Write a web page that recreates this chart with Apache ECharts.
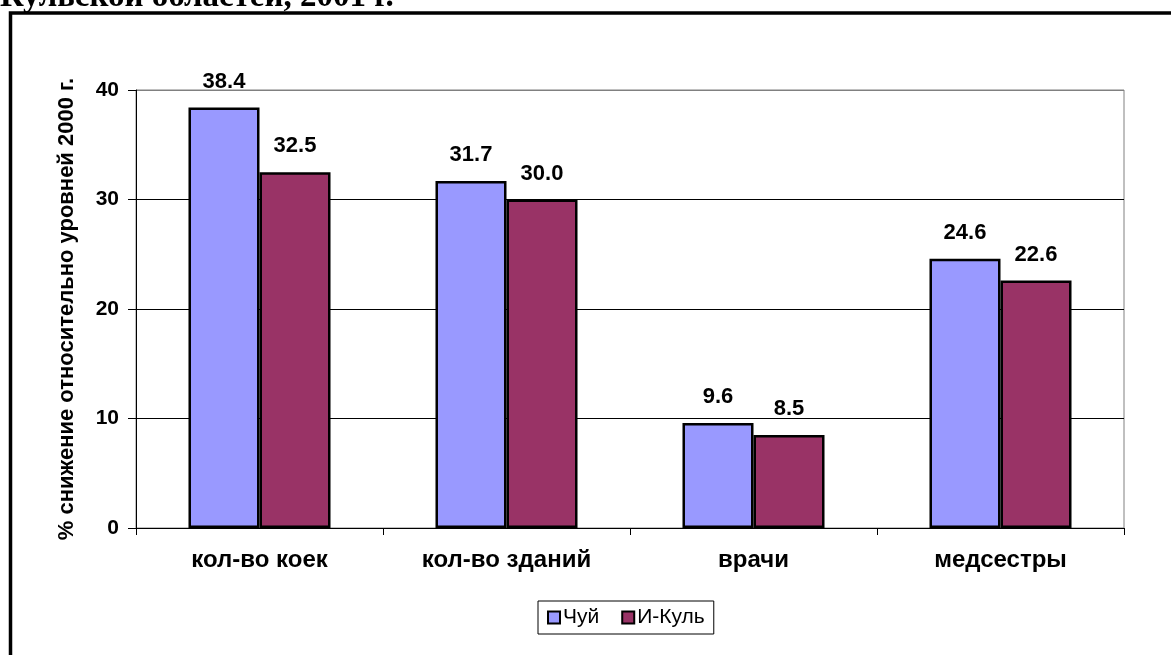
<!DOCTYPE html>
<html>
<head>
<meta charset="utf-8">
<script src="https://cdn.jsdelivr.net/npm/echarts@6/dist/echarts.min.js"></script>
<style>
  html, body { margin: 0; padding: 0; background: #fff; }
  #chart { width: 1171px; height: 655px; }
</style>
</head>
<body>
<div id="chart"></div>
<script>
// Reduction of hospital resources relative to 2000 levels, by region
const categories = ['кол-во коек', 'кол-во зданий', 'врачи', 'медсестры'];
const seriesNames = ['Чуй', 'И-Куль'];
const chuyValues = [38.4, 31.7, 9.6, 24.6];
const ikulValues = [32.5, 30.0, 8.5, 22.6];
const yTicks = { min: 0, max: 40, interval: 10 };
const yAxisTitle = '% снижение относительно уровней 2000 г.';
const headingTail = 'Кульской областей, 2001 г.';

const chart = echarts.init(document.getElementById('chart'), null, { renderer: 'canvas' });

const sans = 'Arial, "Liberation Sans", sans-serif';

const labelStyle = {
  show: true,
  position: 'top',
  distance: 15,
  color: '#000',
  fontFamily: sans,
  fontWeight: 'bold',
  fontSize: 22,
  formatter: p => p.value.toFixed(1)
};

chart.setOption({
  backgroundColor: '#fff',
  animation: false,
  graphic: [
    {
      type: 'text',
      left: 0,
      top: -19,
      style: {
        text: headingTail,
        font: 'bold 33px "Liberation Serif", "Times New Roman", serif',
        fill: '#000'
      }
    },
    {
      type: 'rect',
      shape: { x: 10.5, y: 13, width: 1300, height: 800 },
      style: { fill: 'none', stroke: '#000', lineWidth: 3.5 },
      z: 10
    }
  ],
  grid: {
    left: 136,
    right: 47,
    top: 90,
    bottom: 127,
    show: true,
    borderColor: '#808080',
    borderWidth: 1
  },
  legend: {
    data: seriesNames,
    left: 538,
    top: 601,
    orient: 'horizontal',
    padding: [6, 9, 6, 9],
    itemGap: 22,
    itemWidth: 12,
    itemHeight: 12,
    icon: 'rect',
    borderColor: '#000',
    borderWidth: 1,
    textStyle: {
      color: '#000',
      fontFamily: sans,
      fontSize: 21,
      padding: [0, 0, 0, -2]
    }
  },
  xAxis: {
    type: 'category',
    data: categories,
    axisLine: { show: true, lineStyle: { color: '#000', width: 1 } },
    axisTick: { show: true, length: 7, lineStyle: { color: '#000' } },
    axisLabel: {
      color: '#000',
      fontFamily: sans,
      fontWeight: 'bold',
      fontSize: 24,
      margin: 20
    },
    splitLine: { show: false }
  },
  yAxis: {
    type: 'value',
    min: yTicks.min,
    max: yTicks.max,
    interval: yTicks.interval,
    name: yAxisTitle,
    nameLocation: 'middle',
    nameRotate: 90,
    nameGap: 58,
    nameTextStyle: {
      color: '#000',
      fontFamily: sans,
      fontWeight: 'bold',
      fontSize: 22
    },
    axisLine: { show: true, lineStyle: { color: '#000', width: 1 } },
    axisTick: { show: true, inside: false, length: 8, lineStyle: { color: '#000' } },
    axisLabel: {
      color: '#000',
      fontFamily: sans,
      fontWeight: 'bold',
      fontSize: 21,
      margin: 17
    },
    splitLine: {
      show: true,
      lineStyle: { color: ['#000', '#000', '#000', '#000', '#808080'], width: 1 }
    }
  },
  series: [
    {
      name: seriesNames[0],
      type: 'bar',
      data: chuyValues,
      barGap: '0%',
      barCategoryGap: '42.5%',
      itemStyle: { color: '#9999FF', borderColor: '#000', borderWidth: 2.5 },
      label: labelStyle
    },
    {
      name: seriesNames[1],
      type: 'bar',
      data: ikulValues,
      barGap: '0%',
      barCategoryGap: '42.5%',
      itemStyle: { color: '#993366', borderColor: '#000', borderWidth: 2.5 },
      label: labelStyle
    }
  ]
});
</script>
</body>
</html>
